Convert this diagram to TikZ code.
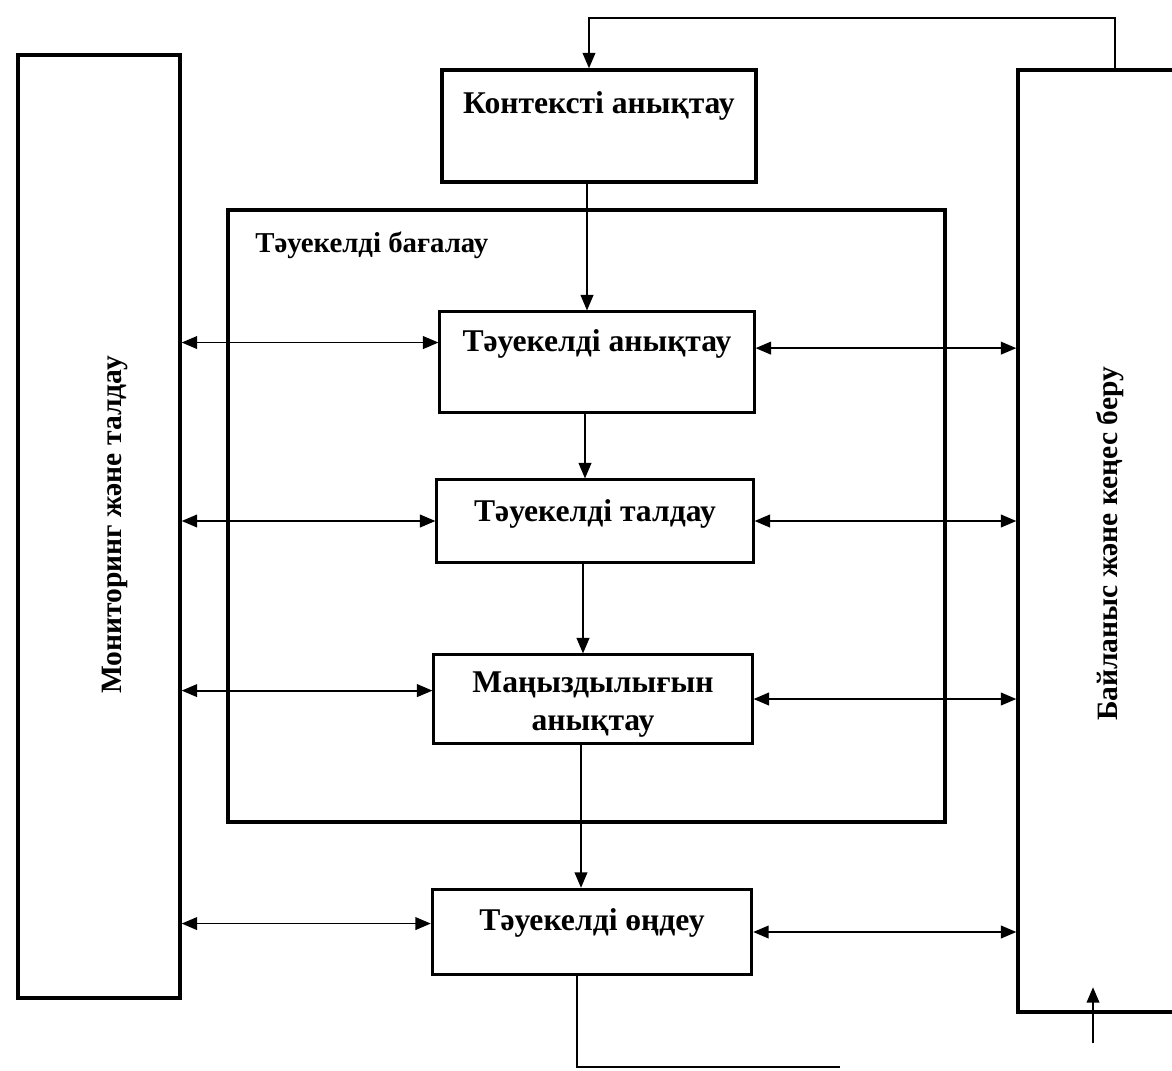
\documentclass[tikz,border=0pt]{standalone}
\usepackage{fontspec}
\setmainfont{Liberation Serif}
\usetikzlibrary{arrows.meta}
\usetikzlibrary{positioning}
\usetikzlibrary{calc}

\begin{document}
\begin{tikzpicture}[
  bigbox/.style={draw,line width=2.4pt,inner sep=0pt},
  stagebox/.style={draw,line width=1.5pt,inner sep=0pt},
  txt/.style={font=\fontsize{22.5}{27}\selectfont\bfseries,align=center,inner sep=0pt},
  conn/.style={line width=1.3pt,-{Triangle[length=11pt,width=9pt]}},
  dbl/.style={line width=1.3pt,{Triangle[length=11pt,width=9pt]}-{Triangle[length=11pt,width=9pt]}}]
\useasboundingbox (0,0) rectangle (29.3,-26.75);
\node[bigbox,minimum width=4.05cm,minimum height=23.575cm] (mon) at (2.475,-13.16) {};
\node[txt,rotate=90,font=\fontsize{21}{25}\selectfont\bfseries] (montxt) at (2.875,-13.125) {Мониторинг және талдау};
\node[bigbox,minimum width=4.3cm,minimum height=23.55cm] (comm) at (27.6,-13.525) {};
\node[txt,rotate=90,font=\fontsize{21}{25}\selectfont\bfseries] (commtxt) at (27.75,-13.6) {Байланыс және кеңес беру};
\node[bigbox,minimum width=7.85cm,minimum height=2.8cm] (ctx) at (14.975,-3.15) {};
\node[txt] (ctxtxt) at ([yshift=-0.95cm]ctx.north) {Контексті анықтау};
\node[bigbox,minimum width=17.925cm,minimum height=15.3cm] (frame) at (14.66,-12.9) {};
\node[txt,anchor=west,font=\fontsize{20.5}{25}\selectfont\bfseries] (framelabel) at (6.375,-6.125) {Тәуекелді бағалау};
\node[stagebox,minimum width=7.875cm,minimum height=2.525cm] (idf) at (14.925,-9.05) {};
\node[txt] (idftxt) at ([yshift=-0.825cm]idf.north) {Тәуекелді анықтау};
\node[stagebox,minimum width=7.925cm,minimum height=2.075cm] (ana) at (14.875,-13.025) {};
\node[txt] (anatxt) at ([yshift=-0.875cm]ana.north) {Тәуекелді талдау};
\node[stagebox,minimum width=7.975cm,minimum height=2.225cm] (sig) at (14.825,-17.475) {};
\node[txt] (sigtxt) at ([yshift=-1.275cm]sig.north) {Маңыздылығын\\анықтау};
\node[bigbox,minimum width=7.975cm,minimum height=2.125cm] (trt) at (14.8,-23.3) {};
\node[txt] (trttxt) at ([yshift=-0.875cm]trt.north) {Тәуекелді өңдеу};
\draw[conn] ([xshift=-0.3cm]ctx.south) -- ([xshift=-0.3cm]ctx.south |- idf.north);
\draw[conn] ([xshift=-0.3cm]idf.south) -- ([xshift=-0.3cm]idf.south |- ana.north);
\draw[conn] ([xshift=-0.3cm]ana.south) -- ([xshift=-0.3cm]ana.south |- sig.north);
\draw[conn] ([xshift=-0.3cm]sig.south) -- ([xshift=-0.3cm]sig.south |- trt.north);
\draw[dbl] (mon.east |- idf.173) -- (idf.173);
\draw[dbl] (idf.5) -- (comm.west |- idf.5);
\draw[dbl] (mon.east |- ana.west) -- (ana.west);
\draw[dbl] (ana.east) -- (comm.west |- ana.east);
\draw[dbl] (mon.east |- sig.177) -- (sig.177);
\draw[dbl] (sig.east) -- (comm.west |- sig.east);
\draw[dbl] (mon.east |- trt.177) -- (trt.177);
\draw[dbl] (trt.east) -- (comm.west |- trt.east);
\coordinate (fbtop) at (27.875,-0.45);
\draw[conn] (comm.north -| fbtop) -- (fbtop) -| ([xshift=-0.25cm]ctx.north);
\coordinate (fbbot) at (21,-26.68);
\draw[line width=1.3pt] ([xshift=-0.375cm]trt.south) |- (fbbot);
\coordinate (fbin) at (27.325,-26.08);
\coordinate (fbtip) at (27.325,-24.68);
\draw[conn] (fbin) -- (fbtip);
\end{tikzpicture}
\end{document}
